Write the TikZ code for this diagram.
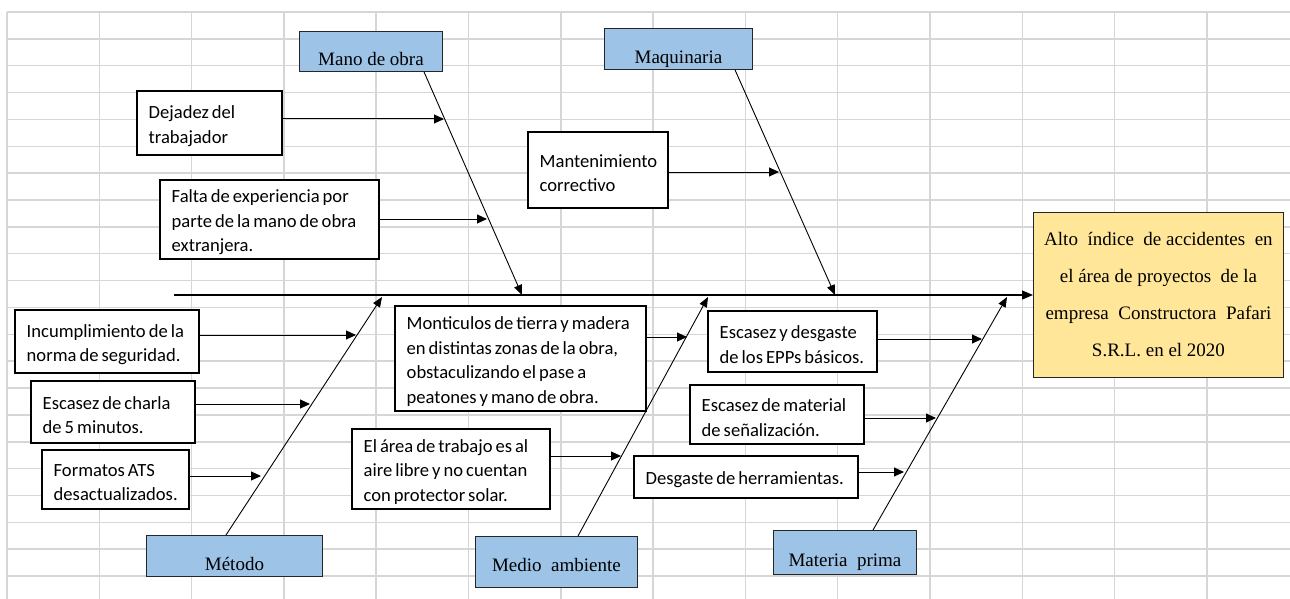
\documentclass[tikz,border=0pt]{standalone}
\usepackage{fontspec}
\setmainfont{Liberation Serif}
\newfontfamily\calibri{Carlito}
\usetikzlibrary{arrows.meta, calc, positioning}

\definecolor{azul}{HTML}{9DC3E6}
\definecolor{amarillo}{HTML}{FFE699}
\definecolor{rejilla}{HTML}{D6D6D6}

\newcommand{\fuentecausa}{\calibri\fontsize{18.6}{24.5}\selectfont\spaceskip=3pt plus 1pt\relax}

\tikzset{
    rejilla/.style={draw=rejilla, line width=1.5pt},
    categoria/.style={draw=black!85, fill=azul, line width=0.9pt, anchor=north west,
        inner sep=0pt, text height=32pt, text depth=4pt, font=\fontsize{19}{23}\selectfont},
    caja/.style={draw, fill=white, line width=2pt, anchor=north west, inner sep=0pt},
    causa/.style={inner sep=0pt, align=left, font=\fuentecausa},
    efecto/.style={draw=black!85, fill=amarillo, line width=0.9pt, anchor=north west,
        align=center, minimum width=250pt, minimum height=165pt,
        font=\fontsize{19}{37}\selectfont},
    flecha/.style={-{Triangle[length=10pt,width=9pt]}, line width=1pt},
    hueso/.style={-{Triangle[length=10pt,width=8pt]}, line width=0.9pt},
    espina/.style={-{Triangle[length=11pt,width=9pt]}, line width=1.2pt}
}

\newcommand{\causa}[6]{
    \node[caja, minimum width=#3, minimum height=#4] (#1) at (#2) {};
    \node[causa, right=12.5pt of #1.west, yshift=-3pt] (#1-t) {#5};
    \draw[flecha] (#1.east |- #6) -- (#6);
}

\begin{document}
\begin{tikzpicture}[x=1pt, y=-1pt]
    \useasboundingbox[fill=white] (0,0) rectangle (1290,599);
    % hoja de calculo
    \foreach \i in {0,...,13}
        \draw[rejilla] ({7+92.3*\i},12) -- ({7+92.3*\i},599);
    \foreach \j in {0,...,21}
        \draw[rejilla] (7,{12+26.86*\j}) -- (1290,{12+26.86*\j});

    % problema
    \node[efecto] (efe) at (1033,212) {Alto \ índice \ de accidentes \ en\\el área de proyectos \ de la\\empresa \ Constructora \ Pafari\\S.R.L. en el 2020};
    \coordinate (esp) at (174,295);
    \draw[espina] (esp) -- (efe.west |- esp);

    % categorias
    \node[categoria, minimum width=143pt, minimum height=40pt] (mdo) at (299,31) {Mano de obra};
    \node[categoria, minimum width=148pt, minimum height=41pt, text height=34pt] (maq) at (604,28) {Maquinaria};
    \node[categoria, minimum width=176pt, minimum height=41pt, text height=34pt] (met) at (146,535) {Método};
    \node[categoria, minimum width=162pt, minimum height=51pt, text height=23pt] (med) at (475,536) {Medio \ ambiente};
    \node[categoria, minimum width=143pt, minimum height=44pt] (mat) at (773,530) {Materia \ prima};

    \coordinate (p-mdo) at (522,295);
    \coordinate (p-maq) at (835,295);
    \coordinate (p-met) at (382,297);
    \coordinate (p-med) at (708,297);
    \coordinate (p-mat) at (1007,297);
    \draw[hueso] (mdo.south -| 424,0) -- (p-mdo);
    \draw[hueso] (maq.south -| 735,0) -- (p-maq);
    \draw[hueso] (met.north -| 226,0) -- (p-met);
    \draw[hueso] (med.north -| 578,0) -- (p-med);
    \draw[hueso] (mat.north -| 873,0) -- (p-mat);

    % puntos sobre las espinas
    \coordinate (t-dej) at (444,119);
    \coordinate (t-fal) at (487,219);
    \coordinate (t-man) at (779,172);
    \coordinate (t-inc) at (356,335);
    \coordinate (t-cha) at (310,404);
    \coordinate (t-for) at (261,476);
    \coordinate (t-mon) at (687,337);
    \coordinate (t-are) at (621,456);
    \coordinate (t-epp) at (982,339);
    \coordinate (t-sen) at (936,418);
    \coordinate (t-her) at (904,472);

    % causas
    \causa{dej}{136,90}{145pt}{64pt}{Dejadez del\\trabajador}{t-dej}
    \causa{fal}{159,179}{219pt}{79pt}{Falta de experiencia por\\parte de la mano de obra\\extranjera.}{t-fal}
    \causa{man}{527,131}{140pt}{76pt}{Mantenimiento\\correctivo}{t-man}
    \causa{inc}{14,309}{184pt}{63pt}{Incumplimiento de la\\norma de seguridad.}{t-inc}
    \causa{cha}{30,380}{164pt}{62pt}{Escasez de charla\\de 5 minutos.}{t-cha}
    \causa{for}{41,449}{147pt}{59pt}{Formatos ATS\\desactualizados.}{t-for}
    \causa{mon}{394,305}{251pt}{105pt}{Monticulos de tierra y madera\\en distintas zonas de la obra,\\obstaculizando el pase a\\peatones y mano de obra.}{t-mon}
    \causa{are}{351,428}{198pt}{80pt}{El área de trabajo es al\\aire libre y no cuentan\\con protector solar.}{t-are}
    \causa{epp}{707,310}{169pt}{61pt}{Escasez y desgaste\\de los EPPs básicos.}{t-epp}
    \causa{sen}{689,384}{174pt}{59pt}{Escasez de material\\de señalización.}{t-sen}
    \causa{her}{633,455}{224pt}{42pt}{Desgaste de herramientas.}{t-her}
\end{tikzpicture}
\end{document}
